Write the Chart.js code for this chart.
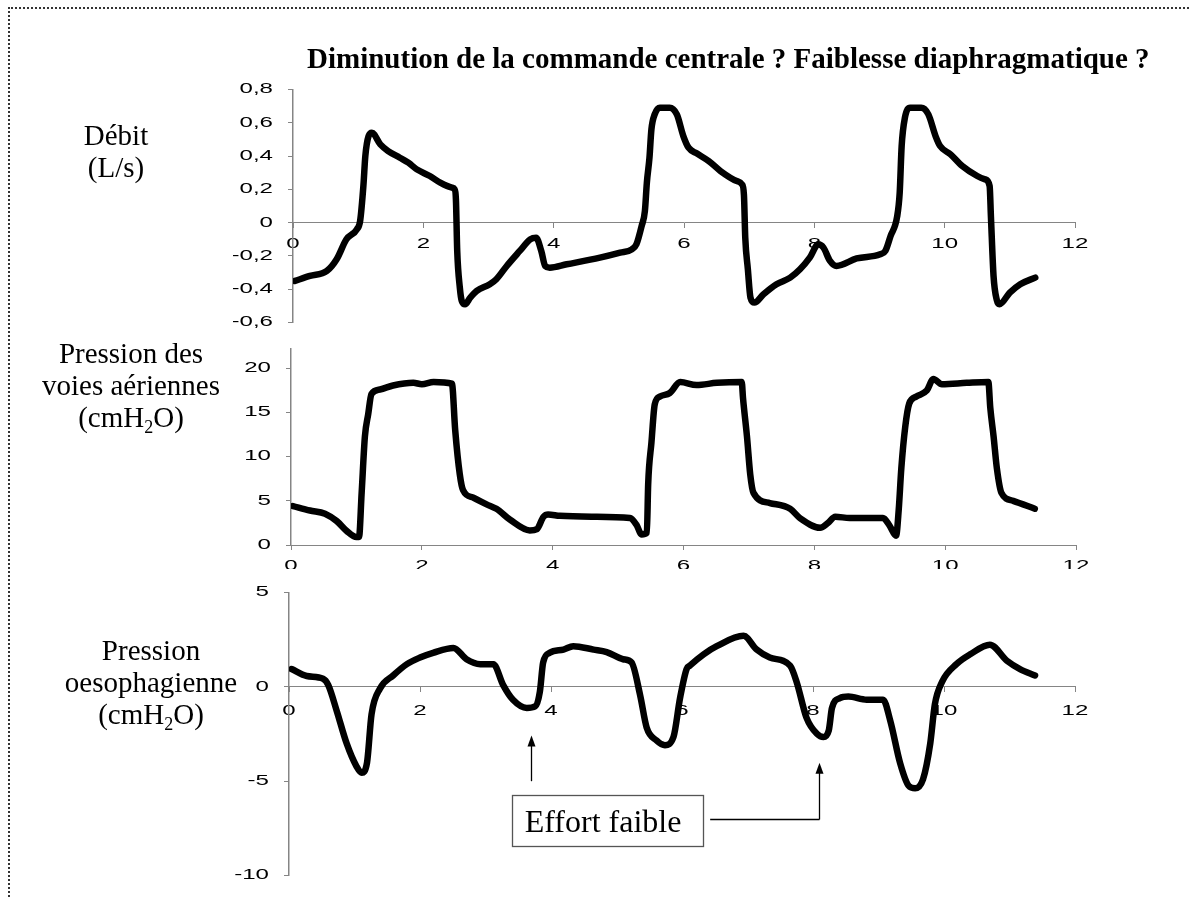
<!DOCTYPE html>
<html>
<head>
<meta charset="utf-8">
<script src="https://cdn.jsdelivr.net/npm/chart.js@4.4.1/dist/chart.umd.min.js"></script>
<style>
  html, body { margin: 0; padding: 0; background: #fff; }
  body { width: 1190px; height: 899px; position: relative; overflow: hidden; }
  canvas { position: absolute; left: 0; }
  #c3 { background: #fff; }
  #frame { position: absolute; left: 8px; top: 7px; right: -10px; bottom: -10px;
    border-top: 2px dotted #333; border-left: 2px dotted #333; z-index: 5; }
  .lbl { position: absolute; width: 260px; text-align: center; white-space: nowrap; z-index: 6;
    font-family: "Liberation Serif", "Times New Roman", serif; font-size: 29px; line-height: 32px; }
  .lbl sub { font-size: 18px; line-height: 0; vertical-align: -6px; }
  #title { position: absolute; left: 307px; top: 44px; white-space: nowrap; z-index: 6;
    font: bold 29px "Liberation Serif", "Times New Roman", serif; line-height: 29px; }
</style>
</head>
<body>
<div id="frame"></div>
<div id="title">Diminution de la commande centrale ? Faiblesse diaphragmatique ?</div>
<div class="lbl" style="left:-14px; top:119px;">Débit<br>(L/s)</div>
<div class="lbl" style="left:1px; top:337px;">Pression des<br>voies aériennes<br>(cmH<sub>2</sub>O)</div>
<div class="lbl" style="left:21px; top:634px;">Pression<br>oesophagienne<br>(cmH<sub>2</sub>O)</div>

<canvas id="c1" width="1190" height="280" style="top:66px"></canvas>
<canvas id="c2" width="1190" height="255" style="top:325px"></canvas>
<canvas id="c3" width="1190" height="330" style="top:569px"></canvas>

<script>
// time axis (s) shared by the three panels
const xTicks = [0, 2, 4, 6, 8, 10, 12];

// Débit (L/s)
const debitT = [0.03, 0.26, 0.52, 0.67, 0.82, 0.98, 1.03, 1.08, 1.11, 1.16, 1.21, 1.34, 1.46, 1.64, 1.77, 1.90, 2.10, 2.26, 2.44, 2.48,
  2.50, 2.52, 2.56, 2.59, 2.64, 2.72, 2.82, 3.02, 3.12, 3.28, 3.48, 3.64, 3.73, 3.81, 3.87, 3.94, 4.20, 4.71, 5.02, 5.20,
  5.27, 5.35, 5.40, 5.43, 5.47, 5.50, 5.55, 5.63, 5.78, 5.89, 5.99, 6.07, 6.20, 6.38, 6.56, 6.81, 6.89, 6.92, 6.94, 6.98,
  7.02, 7.08, 7.22, 7.42, 7.63, 7.78, 7.93, 8.06, 8.14, 8.24, 8.34, 8.65, 9.01, 9.09, 9.17, 9.27, 9.31, 9.34, 9.39, 9.47,
  9.64, 9.75, 9.86, 9.93, 10.09, 10.27, 10.50, 10.62, 10.69, 10.71, 10.75, 10.80, 10.84, 11.00, 11.16, 11.39];
const debitV = [-0.35, -0.32, -0.29, -0.22, -0.10, -0.04, 0.01, 0.22, 0.40, 0.52, 0.54, 0.47, 0.43, 0.39, 0.36, 0.32, 0.28, 0.24, 0.21, 0.20,
  0.14, -0.17, -0.39, -0.47, -0.49, -0.45, -0.41, -0.37, -0.34, -0.26, -0.17, -0.10, -0.09, -0.17, -0.26, -0.27, -0.25, -0.21, -0.18, -0.16,
  -0.13, -0.02, 0.07, 0.24, 0.39, 0.56, 0.65, 0.69, 0.69, 0.65, 0.52, 0.45, 0.415, 0.37, 0.31, 0.25, 0.23, 0.165, -0.09, -0.28,
  -0.45, -0.48, -0.43, -0.37, -0.33, -0.28, -0.21, -0.13, -0.15, -0.23, -0.26, -0.215, -0.19, -0.17, -0.08, 0.035, 0.18, 0.46, 0.63, 0.69,
  0.69, 0.65, 0.52, 0.46, 0.41, 0.34, 0.28, 0.26, 0.22, 0.035, -0.32, -0.465, -0.49, -0.42, -0.37, -0.33];

// Pression des voies aériennes (cmH2O)
const pawT = [0.03, 0.29, 0.52, 0.70, 0.85, 1.00, 1.04, 1.08, 1.13, 1.18, 1.23, 1.36, 1.56, 1.87, 2.00, 2.18, 2.46, 2.51, 2.58, 2.63,
  2.79, 2.99, 3.14, 3.35, 3.65, 3.76, 3.86, 3.93, 4.11, 4.62, 5.18, 5.28, 5.36, 5.44, 5.46, 5.51, 5.56, 5.64, 5.79, 5.95,
  6.20, 6.51, 6.89, 6.91, 6.97, 7.02, 7.07, 7.32, 7.63, 7.78, 8.09, 8.21, 8.32, 8.54, 9.05, 9.15, 9.25, 9.29, 9.33, 9.39,
  9.45, 9.56, 9.72, 9.82, 9.95, 10.33, 10.66, 10.69, 10.74, 10.79, 10.86, 11.04, 11.37];
const pawV = [4.4, 3.9, 3.55, 2.7, 1.6, 0.9, 0.9, 5.9, 12.3, 14.8, 17.1, 17.6, 18.05, 18.35, 18.2, 18.45, 18.25, 13.0, 8.0, 6.2,
  5.35, 4.6, 4.1, 2.85, 1.65, 1.8, 3.2, 3.45, 3.3, 3.2, 3.05, 2.3, 1.2, 1.4, 6.9, 11.6, 15.9, 16.8, 17.2, 18.45,
  18.1, 18.35, 18.45, 16.6, 12.3, 8.0, 5.9, 4.75, 4.1, 3.05, 1.95, 2.5, 3.2, 3.05, 3.05, 2.2, 1.05, 4.0, 8.7, 13.4,
  16.0, 16.8, 17.5, 18.8, 18.2, 18.35, 18.45, 15.5, 12.3, 8.7, 5.9, 5.0, 4.1];

// Pression oesophagienne (cmH2O)
const pesT = [0.04, 0.27, 0.52, 0.60, 0.73, 0.88, 1.03, 1.11, 1.19, 1.26, 1.39, 1.59, 1.80, 2.00, 2.20, 2.51, 2.71, 2.92, 3.12, 3.27,
  3.42, 3.63, 3.76, 3.83, 3.88, 3.98, 4.19, 4.34, 4.65, 4.85, 5.10, 5.23, 5.36, 5.46, 5.61, 5.74, 5.87, 5.97, 6.07, 6.12,
  6.33, 6.53, 6.94, 7.14, 7.34, 7.65, 7.75, 7.90, 8.06, 8.16, 8.24, 8.29, 8.41, 8.54, 8.82, 9.07, 9.18, 9.33, 9.46, 9.56,
  9.68, 9.79, 9.86, 9.97, 10.19, 10.40, 10.70, 10.96, 11.16, 11.39];
const pesV = [0.94, 0.57, 0.43, 0.09, -1.29, -3.0, -4.21, -4.55, -4.04, -1.46, -0.09, 0.60, 1.2, 1.55, 1.8, 2.06, 1.46, 1.2, 1.2, 0.09,
  -0.69, -1.12, -1.03, -0.26, 1.29, 1.8, 1.97, 2.15, 1.97, 1.84, 1.46, 1.29, -0.43, -2.15, -2.84, -3.09, -2.66, -0.6, 0.94, 1.12,
  1.72, 2.15, 2.7, 1.97, 1.55, 1.12, 0.26, -1.63, -2.49, -2.66, -2.32, -1.12, -0.6, -0.52, -0.69, -0.69, -1.8, -4.04, -5.24, -5.38,
  -4.9, -3.0, -0.94, 0.26, 1.2, 1.72, 2.23, 1.38, 0.94, 0.6];

// "Effort faible" call-out, in data units of the bottom panel
const noteBox = { t1: 3.40, t2: 6.32, top: -5.71, bottom: -8.40 };
const noteArrow1 = { t: 3.69, from: -5.0, tip: -2.58 };
const noteArrow2 = { tStart: 6.43, level: -7.0, t: 8.09, tip: -4.02 };

const AXIS_GREY = "#858585";
const TICK_STRETCH = 1.72;   // tick labels of the original are drawn very wide

// tick labels: stretch horizontally while the axes are drawn
const wideTicks = {
  id: "wideTicks",
  beforeDraw(chart) {
    const plain = CanvasRenderingContext2D.prototype.fillText;
    chart.ctx.fillText = function (text, x, y) {
      this.save();
      this.translate(x, y);
      this.scale(TICK_STRETCH, 1);
      plain.call(this, text, 0, 0);
      this.restore();
    };
  },
  beforeDatasetsDraw(chart) {
    delete chart.ctx.fillText;
  }
};

function upArrow(ctx, x, yFrom, yTip) {
  ctx.beginPath();
  ctx.moveTo(x, yFrom);
  ctx.lineTo(x, yTip + 8);
  ctx.stroke();
  ctx.beginPath();
  ctx.moveTo(x, yTip);
  ctx.lineTo(x - 4, yTip + 11);
  ctx.lineTo(x + 4, yTip + 11);
  ctx.closePath();
  ctx.fill();
}

const effortNote = {
  id: "effortNote",
  afterDraw(chart) {
    const { ctx, scales } = chart;
    const x = scales.x, y = scales.y;
    ctx.save();
    ctx.fillStyle = "#000";
    ctx.strokeStyle = "#000";
    ctx.lineWidth = 1.3;

    const bx1 = x.getPixelForValue(noteBox.t1), bx2 = x.getPixelForValue(noteBox.t2);
    const by1 = y.getPixelForValue(noteBox.top), by2 = y.getPixelForValue(noteBox.bottom);
    ctx.strokeStyle = "#555";
    ctx.strokeRect(Math.round(bx1) + 0.5, Math.round(by1) + 0.5, Math.round(bx2 - bx1), Math.round(by2 - by1));
    ctx.font = '32px "Liberation Serif", "Times New Roman", serif';
    ctx.textAlign = "left";
    ctx.textBaseline = "alphabetic";
    ctx.fillText("Effort faible", bx1 + 13, by2 - 13);

    ctx.strokeStyle = "#000";
    upArrow(ctx, Math.round(x.getPixelForValue(noteArrow1.t)) + 0.5,
      y.getPixelForValue(noteArrow1.from), y.getPixelForValue(noteArrow1.tip));

    const ax = Math.round(x.getPixelForValue(noteArrow2.t)) + 0.5;
    const ay = Math.round(y.getPixelForValue(noteArrow2.level)) + 0.5;
    ctx.beginPath();
    ctx.moveTo(x.getPixelForValue(noteArrow2.tStart), ay);
    ctx.lineTo(ax, ay);
    ctx.stroke();
    upArrow(ctx, ax, ay, y.getPixelForValue(noteArrow2.tip));
    ctx.restore();
  }
};

function points(ts, vs) {
  return ts.map((t, i) => ({ x: t, y: vs[i] }));
}

function makeChart(id, data, cfg) {
  const tickFont = { family: '"Liberation Sans", Arial, sans-serif', size: 14 };
  return new Chart(document.getElementById(id), {
    type: "line",
    data: {
      datasets: [{
        data: data,
        borderColor: "#000",
        borderWidth: 6.5,
        borderJoinStyle: "round",
        borderCapStyle: "round",
        pointRadius: 0,
        cubicInterpolationMode: "monotone",
        fill: false
      }]
    },
    options: {
      responsive: false,
      animation: false,
      devicePixelRatio: 1,
      events: [],
      layout: { padding: cfg.padding },
      plugins: { legend: { display: false }, tooltip: { enabled: false } },
      scales: {
        x: {
          type: "linear",
          position: cfg.xPosition,
          min: 0,
          max: 12,
          afterBuildTicks: (axis) => { axis.ticks = xTicks.map((v) => ({ value: v })); },
          afterFit: (axis) => { axis.height = cfg.xHeight; },
          grid: { drawOnChartArea: false, tickLength: 5, color: AXIS_GREY },
          border: { color: AXIS_GREY, width: 1 },
          ticks: { font: tickFont, color: "#000", padding: cfg.xPad, maxRotation: 0, autoSkip: false }
        },
        y: {
          min: cfg.yMin,
          max: cfg.yMax,
          afterBuildTicks: (axis) => { axis.ticks = cfg.yTicks.map((v) => ({ value: v })); },
          afterFit: (axis) => { axis.width = 60; },
          grid: { drawOnChartArea: false, tickLength: 5, color: AXIS_GREY },
          border: { color: AXIS_GREY, width: 1.5 },
          ticks: { font: tickFont, color: "#000", padding: 15, autoSkip: false, callback: cfg.yLabel }
        }
      }
    },
    plugins: cfg.plugins
  });
}

const debitTicks = [-0.6, -0.4, -0.2, 0, 0.2, 0.4, 0.6, 0.8];
const pawTicks = [0, 5, 10, 15, 20];
const pesTicks = [-10, -5, 0, 5];
const commaLabel = (v) => (Math.abs(v) < 1e-9 ? "0" : v.toFixed(1).replace(".", ","));

makeChart("c1", points(debitT, debitV), {
  padding: { top: 13, bottom: 15, left: 233, right: 115 },
  xPosition: { y: 0 }, xHeight: 0, xPad: 8,
  yMin: -0.6, yMax: 0.8, yTicks: debitTicks, yLabel: commaLabel,
  plugins: [wideTicks]
});

makeChart("c2", points(pawT, pawV), {
  padding: { top: 12, bottom: 0, left: 231, right: 114 },
  xPosition: "bottom", xHeight: 35, xPad: 8,
  yMin: 0, yMax: 22.25, yTicks: pawTicks, yLabel: (v) => String(v),
  plugins: [wideTicks]
});

makeChart("c3", points(pesT, pesV), {
  padding: { top: 18, bottom: 21, left: 229, right: 115 },
  xPosition: { y: 0 }, xHeight: 0, xPad: 11,
  yMin: -10, yMax: 5, yTicks: pesTicks, yLabel: (v) => String(v),
  plugins: [wideTicks, effortNote]
});
</script>
</body>
</html>
